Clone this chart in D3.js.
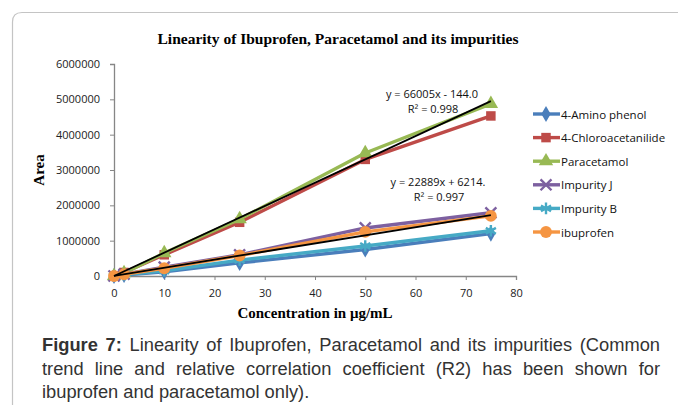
<!DOCTYPE html>
<meta charset="utf-8">
<style>
body { margin: 0; background: #fff; }
#wrap { position: relative; width: 678px; height: 405px; overflow: hidden; }
svg { position: absolute; left: 0; top: 0; }
.tick text { font: 11px "Open Sans", sans-serif; fill: #222; }
.axis path, .axis line { stroke: #868686; }
.ttl { font: bold 15.5px "Liberation Serif", serif; fill: #000; }
.xl { font: bold 15px "Liberation Serif", serif; fill: #000; }
.leg { font: 11.5px "Open Sans", sans-serif; fill: #111; }
.eq { font: 11px "Open Sans", sans-serif; fill: #111; }
#cap { position: absolute; left: 42px; top: 333px; width: 618px; font: 18.3px "Liberation Sans", Arial, sans-serif; color: #333; line-height: 23.5px; }
#cap div { text-align: justify; text-align-last: justify; white-space: nowrap; }
#cap div.last { text-align-last: left; }
</style>
<body>
<div id="wrap">
  <div id="cap"></div>
</div>
<script src="https://d3js.org/d3.v7.min.js"></script>
<script>
// data
var conc = [0, 2, 10, 25, 50, 75];
var seriesNames = ["4-Amino phenol", "4-Chloroacetanilide", "Paracetamol", "Impurity J", "Impurity B", "ibuprofen"];
var aminoPhenol = [0, 30000, 120000, 370000, 750000, 1200000];
var chloroacetanilide = [0, 100000, 600000, 1520000, 3300000, 4530000];
var paracetamol = [0, 80000, 650000, 1610000, 3480000, 4870000];
var impurityJ = [0, 50000, 250000, 600000, 1360000, 1790000];
var impurityB = [0, 40000, 150000, 450000, 850000, 1280000];
var ibuprofen = [0, 50000, 220000, 580000, 1250000, 1700000];
var colors = ["#4A7EBB", "#BE4B48", "#98B954", "#7D60A0", "#46AAC5", "#F59542"];
var yTicks = [0, 1000000, 2000000, 3000000, 4000000, 5000000, 6000000];
var xTicks = [0, 10, 20, 30, 40, 50, 60, 70, 80];
// trendlines (from the equations shown)
var trendSlope = [66005, 22889];
var trendIntercept = [-144.0, 6214];
var trendText = [["y = 66005x - 144.0", "R² = 0.998"], ["y = 22889x + 6214.", "R² = 0.997"]];
var captionLines = [
  "<b>Figure 7:</b> Linearity of Ibuprofen, Paracetamol and its impurities (Common",
  "trend line and relative correlation coefficient (R2) has been shown for",
  "ibuprofen and paracetamol only)."
];

var allValues = [aminoPhenol, chloroacetanilide, paracetamol, impurityJ, impurityB, ibuprofen];
var series = seriesNames.map(function(n, i) {
  return { name: n, color: colors[i], values: conc.map(function(c, j) { return { x: c, y: allValues[i][j] }; }) };
});

var svg = d3.select("#wrap").insert("svg", "#cap").attr("width", 678).attr("height", 405);

// frame with rounded corner
svg.append("path")
  .attr("d", "M12.5,405 L12.5,22 Q12.5,12.5 22,12.5 L678,12.5")
  .attr("fill", "none").attr("stroke", "#c4c4c4").attr("stroke-width", 1.2);

var x = d3.scaleLinear().domain([0, 80]).range([114, 516]);
var y = d3.scaleLinear().domain([0, 6000000]).range([276, 64]);

svg.append("g").attr("class", "axis")
  .attr("transform", "translate(" + x(0) + ",0)")
  .call(d3.axisLeft(y).tickValues(yTicks).tickSize(4).tickPadding(10).tickFormat(d3.format("d")));
svg.append("g").attr("class", "axis")
  .attr("transform", "translate(0," + y(0) + ")")
  .call(d3.axisBottom(x).tickValues(xTicks).tickSize(4).tickPadding(9));
svg.selectAll(".axis .domain").attr("stroke-width", 1.3);

svg.append("text").attr("class", "ttl").attr("x", 338).attr("y", 44)
  .attr("text-anchor", "middle").text("Linearity of Ibuprofen, Paracetamol and its impurities");
svg.append("text").attr("class", "xl").attr("x", 315).attr("y", 318)
  .attr("text-anchor", "middle").text("Concentration in μg/mL");
svg.append("text").attr("class", "xl")
  .attr("transform", "translate(44," + y(3000000) + ") rotate(-90)")
  .attr("text-anchor", "middle").text("Area");

var symbols = [d3.symbolDiamond, d3.symbolSquare, d3.symbolTriangle, d3.symbolX, d3.symbolAsterisk, d3.symbolCircle];
var sizes = [75, 90, 90, 80, 95, 110];
var stroked = [false, false, false, true, true, false];

function marker(sel, i) {
  sel.attr("d", d3.symbol().type(symbols[i]).size(sizes[i])())
    .attr("fill", stroked[i] ? "none" : colors[i])
    .attr("stroke", colors[i])
    .attr("stroke-width", stroked[i] ? 2.4 : 0);
}

var line = d3.line().x(function(d) { return x(d.x); }).y(function(d) { return y(d.y); });

series.forEach(function(s, i) {
  var g = svg.append("g");
  g.append("path").datum(s.values).attr("d", line)
    .attr("fill", "none").attr("stroke", s.color).attr("stroke-width", 3.4)
    .attr("stroke-linejoin", "round");
  g.selectAll("path.m").data(s.values).enter().append("path").attr("class", "m")
    .attr("transform", function(d) { return "translate(" + x(d.x) + "," + y(d.y) + ")"; })
    .call(marker, i);
});

// trendlines
trendSlope.forEach(function(m, k) {
  var pts = [0, 75].map(function(c) { return { x: c, y: m * c + trendIntercept[k] }; });
  svg.append("path").datum(pts).attr("d", line)
    .attr("fill", "none").attr("stroke", "#000").attr("stroke-width", 1.8);
});

var eqPos = [[432, 98], [438, 186]];
trendText.forEach(function(t, k) {
  svg.append("text").attr("class", "eq").attr("x", eqPos[k][0]).attr("y", eqPos[k][1])
    .attr("text-anchor", "middle").text(t[0]);
  svg.append("text").attr("class", "eq").attr("x", eqPos[k][0] + 1).attr("y", eqPos[k][1] + 15)
    .attr("text-anchor", "middle").text(t[1]);
});

// legend
var leg = svg.append("g");
series.forEach(function(s, i) {
  var ly = 114 + i * 23.6;
  leg.append("line").attr("x1", 533).attr("x2", 560).attr("y1", ly).attr("y2", ly)
    .attr("stroke", s.color).attr("stroke-width", 3.4);
  leg.append("path").attr("transform", "translate(546," + ly + ")").call(marker, i);
  leg.append("text").attr("class", "leg").attr("x", 561).attr("y", ly + 4.5).text(s.name);
});

d3.select("#cap").selectAll("div").data(captionLines).enter().append("div")
  .attr("class", function(d, i) { return i === captionLines.length - 1 ? "last" : null; })
  .html(function(d) { return d; });
</script>
</body>
